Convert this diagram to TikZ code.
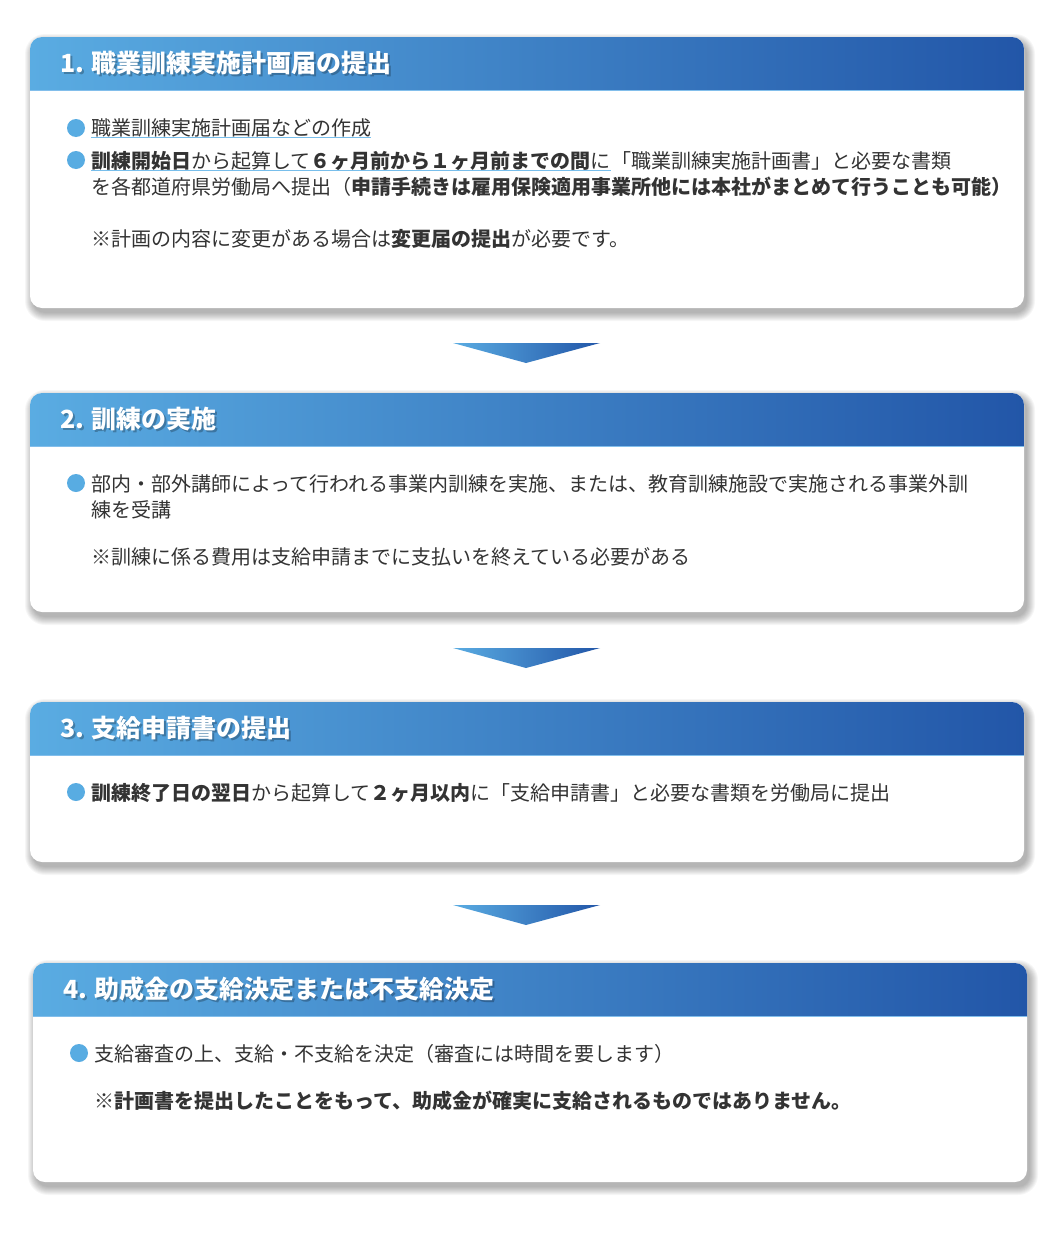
\documentclass[tikz,border=0pt]{standalone}
\usepackage{fontspec}
\setmainfont{Noto Sans CJK JP}
\definecolor{hdrL}{RGB}{90,172,226}
\definecolor{hdrR}{RGB}{34,86,168}
\definecolor{tcol}{RGB}{51,51,51}
\definecolor{bcol}{RGB}{88,172,226}
\definecolor{ulcol}{RGB}{120,190,235}
\definecolor{hline}{RGB}{130,190,235}
\newcommand\mkcard[5]{%
  \foreach \k in {8,7,...,0}{%
    \fill[black,opacity=0.035,rounded corners=12pt+\k pt]
      (#1+3-\k,#2+5-\k) rectangle (#3+3+\k,#4+5+\k);}
  \fill[white,rounded corners=12pt] (#1,#2) rectangle (#3,#4);
  \begin{scope}
    \clip[rounded corners=12pt] (#1,#2) rectangle (#3,#4);
    \shade[left color=hdrL,right color=hdrR] (#1,#2) rectangle (#3,#5);
    \draw[hline,line width=1pt] (#1,#5) -- (#3,#5);
  \end{scope}}
\begin{document}
\begin{tikzpicture}[x=1pt,y=-1pt,
  txt/.style={anchor=west,inner sep=0pt,font=\fontsize{20}{26}\selectfont,text=tcol},
  ttl/.style={anchor=west,inner sep=0pt,font=\fontsize{25}{29}\selectfont\bfseries,text=white},
  ttlsh/.style={anchor=west,inner sep=0pt,font=\fontsize{25}{29}\selectfont\bfseries,text=black,opacity=0.25},
  bul/.style={circle,fill=bcol,minimum size=18pt,inner sep=0pt},
  uline/.style={ulcol,line width=1pt},
  arrshape/.style={left color=hdrL,right color=hdrR}]
\fill[white] (0,0) rectangle (1063,1250);
\useasboundingbox (0,0) rectangle (1063,1250);

% ---------- card 1
\mkcard{30}{37}{1024}{308}{90}
\node[ttlsh] (t1s) at (62,65) {1. 職業訓練実施計画届の提出};
\node[ttl] (t1) at (60,63) {1. 職業訓練実施計画届の提出};
\node[bul] (b1a) at (76,128) {};
\node[txt] (l1a) at (91,128) {職業訓練実施計画届などの作成};
\draw[uline] (l1a.south west) -- (l1a.south east);
\node[bul] (b1b) at (76,160) {};
\node[txt] (l1b) at (91,161) {\textbf{訓練開始日}から起算して\textbf{６ヶ月前から１ヶ月前までの間}に};
\node[txt,anchor=base west] (l1bb) at (l1b.base east) {「職業訓練実施計画書」と必要な書類};
\draw[uline] (l1b.south west) -- (l1b.south east);
\node[txt] (l1c) at (91,187) {を各都道府県労働局へ提出（\textbf{申請手続きは雇用保険適用事業所他には本社がまとめて行うことも可能）}};
\node[txt] (l1d) at (91,239) {※計画の内容に変更がある場合は\textbf{変更届の提出}が必要です。};

% ---------- arrow 1
\shade[arrshape] (453,343) -- (600,343) -- (526,363) -- cycle;

% ---------- card 2
\mkcard{30}{393}{1024}{612}{446}
\node[ttlsh] (t2s) at (62,421) {2. 訓練の実施};
\node[ttl] (t2) at (60,419) {2. 訓練の実施};
\node[bul] (b2a) at (76,483) {};
\node[txt] (l2a) at (91,484) {部内・部外講師によって行われる事業内訓練を実施、または、教育訓練施設で実施される事業外訓};
\node[txt] (l2b) at (91,510) {練を受講};
\node[txt] (l2c) at (91,557) {※訓練に係る費用は支給申請までに支払いを終えている必要がある};

% ---------- arrow 2
\shade[arrshape] (453,648) -- (600,648) -- (526,668) -- cycle;

% ---------- card 3
\mkcard{30}{702}{1024}{862}{755}
\node[ttlsh] (t3s) at (62,730) {3. 支給申請書の提出};
\node[ttl] (t3) at (60,728) {3. 支給申請書の提出};
\node[bul] (b3a) at (76,792) {};
\node[txt] (l3a) at (91,793) {\textbf{訓練終了日の翌日}から起算して\textbf{２ヶ月以内}に「支給申請書」と必要な書類を労働局に提出};

% ---------- arrow 3
\shade[arrshape] (453,905) -- (600,905) -- (526,925) -- cycle;

% ---------- card 4
\mkcard{33}{963}{1027}{1182}{1016}
\node[ttlsh] (t4s) at (65,991) {4. 助成金の支給決定または不支給決定};
\node[ttl] (t4) at (63,989) {4. 助成金の支給決定または不支給決定};
\node[bul] (b4a) at (79,1053) {};
\node[txt] (l4a) at (94,1054) {支給審査の上、支給・不支給を決定（審査には時間を要します）};
\node[txt] (l4b) at (94,1101) {※\textbf{計画書を提出したことをもって、助成金が確実に支給されるものではありません。}};
\end{tikzpicture}
\end{document}
